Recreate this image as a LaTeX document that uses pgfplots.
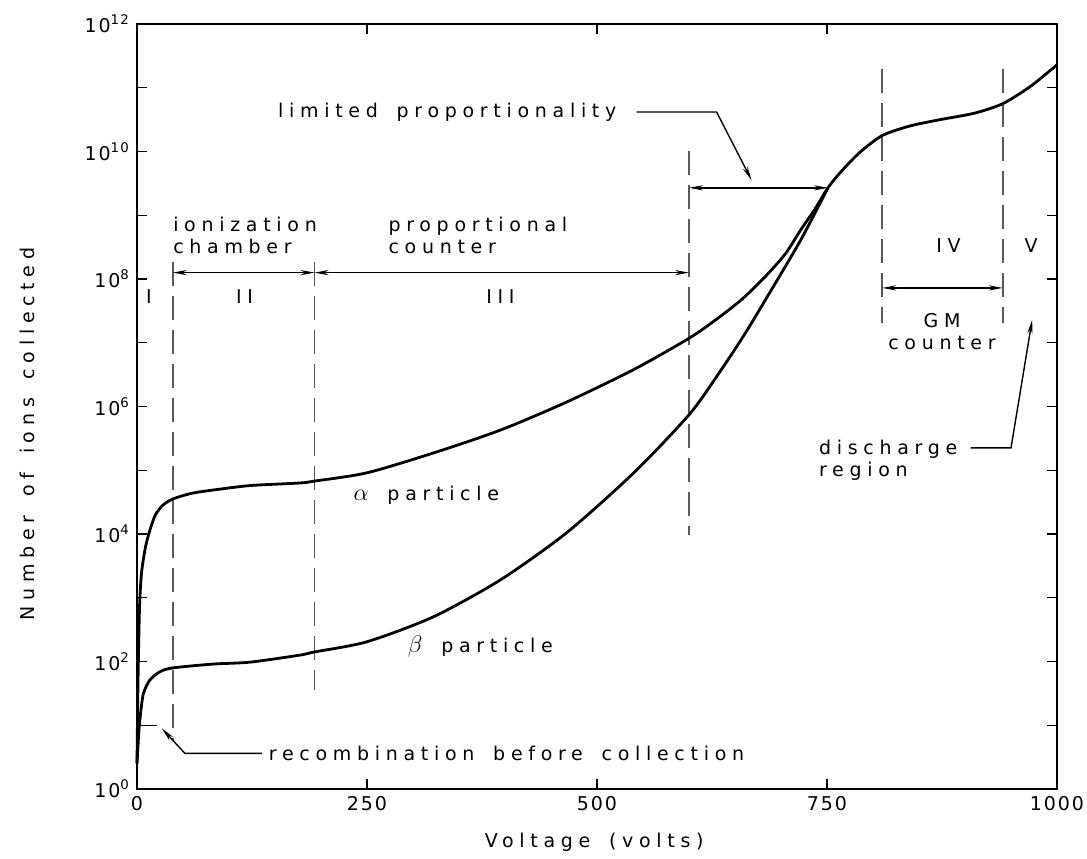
\documentclass[border=0pt]{standalone}
\usepackage{pgfplots}
\pgfplotsset{compat=1.18}
\usetikzlibrary{arrows.meta}
\usepackage{fontspec}
\setmainfont{DejaVu Sans}[LetterSpace=30,WordSpace=1.6]

% counts are given as log10 of the number of ions
\pgfplotstableread{
V    n
0    0.4
1    1.6
2    2.4
3    2.95
5    3.4
9    3.78
14   4.06
20   4.3
28   4.45
39   4.55
60   4.64
83   4.69
123  4.76
177  4.8
193  4.83
250  4.96
322  5.27
395  5.63
467  6.07
540  6.58
600  7.07
631  7.38
659  7.7
685  8.07
705  8.4
721  8.76
737  9.1
751  9.43
765  9.68
786  9.99
810  10.25
840  10.4
873  10.5
910  10.6
941  10.75
971  11.02
1000 11.36
}\alphadata
\pgfplotstableread{
V    n
0    0.4
2    0.9
4    1.2
7    1.5
14   1.71
25   1.84
39   1.9
83   1.96
123  1.99
177  2.1
193  2.15
250  2.31
322  2.7
395  3.28
467  4.02
540  4.96
600  5.87
631  6.49
659  7.1
685  7.72
721  8.6
751  9.43
}\betadata

\begin{document}
\begin{tikzpicture}[font=\fontsize{9.5}{11}\selectfont]
\begin{axis}[
	at={(68.5pt,34.5pt)}, anchor=south west,
	scale only axis,
	width=460pt, height=382.5pt,
	xmin=0, xmax=1000, ymin=0, ymax=12,
	xtick={0,250,500,750,1000},
	xticklabels={0,250,500,750,1000},
	ytick={0,1,...,12},
	yticklabels={10\textsuperscript{0},{},10\textsuperscript{2},{},10\textsuperscript{4},{},10\textsuperscript{6},{},10\textsuperscript{8},{},10\textsuperscript{10},{},10\textsuperscript{12}},
	ticklabel style={font=\fontsize{9.5}{11}\selectfont\addfontfeature{LetterSpace=10}},
	/pgf/number format/assume math mode=true,
	tick align=inside,
	major tick length=5pt,
	tick style={black, line width=0.7pt},
	axis line style={black, line width=0.9pt},
	xlabel={Voltage (volts)},
	ylabel={Number of ions collected},
	xlabel style={at={(axis description cs:0.497,-0.069)}, anchor=center},
	ylabel style={at={(axis description cs:-0.119,0.464)}, anchor=center},
	clip=false,
]
% region boundaries
\addplot[black!65, line width=0.9pt, dash pattern=on 12pt off 5pt] coordinates {(39,8.27) (39,0.75)};
\addplot[black!65, line width=0.9pt, dash pattern=on 12pt off 5pt] coordinates {(193,8.27) (193,1.55)};
\addplot[black!65, line width=0.9pt, dash pattern=on 12pt off 5pt] coordinates {(600,10.0) (600,3.98)};
\addplot[black!65, line width=0.9pt, dash pattern=on 12pt off 5pt] coordinates {(810,11.29) (810,7.31)};
\addplot[black!65, line width=0.9pt, dash pattern=on 12pt off 5pt] coordinates {(941,11.29) (941,7.31)};

% curves
\addplot[black, line width=1.4pt, smooth, tension=0.45] table[x=V, y=n] {\alphadata};
\addplot[black, line width=1.4pt, smooth, tension=0.45] table[x=V, y=n] {\betadata};

% range arrows
\tikzset{rng/.style={black, line width=0.7pt, {Stealth[length=7pt,width=2.6pt]}-{Stealth[length=7pt,width=2.6pt]}}}
\draw[rng] (axis cs:39,8.1) -- (axis cs:193,8.1);
\draw[rng] (axis cs:193,8.1) -- (axis cs:600,8.1);
\draw[rng] (axis cs:600,9.43) -- (axis cs:751,9.43);
\draw[rng] (axis cs:810,7.86) -- (axis cs:941,7.86);

% region names
\node at (axis cs:13,7.73) {I};
\node at (axis cs:117,7.73) {II};
\node at (axis cs:395,7.73) {III};
\node at (axis cs:882,8.53) {IV};
\node at (axis cs:972,8.53) {V};

\node[anchor=west, align=left, inner sep=0pt] at (axis cs:39,8.69) {ionization\\chamber};
\node[anchor=west, align=left, inner sep=0pt] at (axis cs:273,8.69) {proportional\\counter};
\node[align=center, inner sep=0pt] at (axis cs:875,7.17) {GM\\counter};
\node[anchor=east, align=left, inner sep=0pt] at (axis cs:892,5.15) {discharge\\region};
\node[anchor=west, inner sep=0pt] at (axis cs:235,4.61) {{\fontsize{12}{12}\selectfont$\alpha$} particle};
\node[anchor=west, inner sep=0pt] at (axis cs:294,2.23) {{\fontsize{12}{12}\selectfont$\beta$} particle};
\node[anchor=west, inner sep=0pt] at (axis cs:153,10.62) {limited proportionality};
\node[anchor=west, inner sep=0pt] at (axis cs:143,0.56) {recombination before collection};

% leader lines
\tikzset{lead/.style={black, line width=0.7pt, -{Stealth[length=7pt,width=2.6pt]}}}
\draw[lead] (axis cs:543,10.62) -- (axis cs:630,10.62) -- (axis cs:668,9.55);
\draw[lead] (axis cs:136,0.56) -- (axis cs:52,0.56) -- (axis cs:27,0.95);
\draw[black, line width=0.7pt] (axis cs:0,1.0) -- (axis cs:22,1.0);
\draw[lead] (axis cs:906,5.35) -- (axis cs:950,5.35) -- (axis cs:973,7.36);
\end{axis}
\pgfresetboundingbox
\path[use as bounding box] (0,0) rectangle (543.5pt,429pt);
\end{tikzpicture}
\end{document}
